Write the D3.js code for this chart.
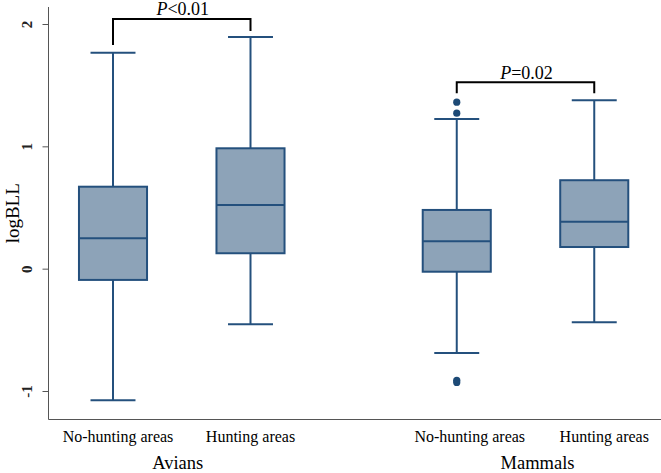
<!DOCTYPE html>
<html>
<head>
<meta charset="utf-8">
<script src="https://cdn.jsdelivr.net/npm/d3@7"></script>
<style>
  html, body { margin: 0; padding: 0; background: #fff; }
  svg { display: block; }
  text, tspan { font-family: "Liberation Serif", "DejaVu Serif", serif; fill: #000; }
</style>
</head>
<body>
<svg id="chart" width="661" height="473"></svg>
<script>
// ---------- data ----------
const groups = ["Avians", "Mammals"];
const categories = ["No-hunting areas", "Hunting areas", "No-hunting areas", "Hunting areas"];
const categoryGroup = [0, 0, 1, 1];
const slot = [0, 1, 2.5, 3.5];
const whiskerLow  = [-1.076, -0.455, -0.689, -0.438];
const q1          = [-0.092,  0.126, -0.025,  0.177];
const median      = [ 0.248,  0.521,  0.224,  0.384];
const q3          = [ 0.670,  0.984,  0.480,  0.723];
const whiskerHigh = [ 1.764,  1.894,  1.224,  1.377];
const outliers = [[], [], [1.361, 1.271, -0.912, -0.930], []];
const yTicks = [-1, 0, 1, 2];
const yTickLabels = ["-1", "0", "1", "2"];
const yLabel = "logBLL";
// significance brackets: [left box, right box], top level, leg ends (data units)
const bracketPairs = [[0, 1], [2, 3]];
const bracketTop = [2.041, 1.524];
const bracketLegLeft = [1.829, 1.434];
const bracketLegRight = [1.943, 1.434];
const pPrefix = ["P", "P"];
const pRest = ["<0.01", "=0.02"];

// ---------- layout ----------
const serif = '"Liberation Serif", "DejaVu Serif", serif';
const svg = d3.select("#chart");
const y = d3.scaleLinear().domain([-1, 2]).range([391, 24]);
const yExtent = [y.invert(419.5), y.invert(7)];
const x = d3.scaleLinear().domain([0, 1]).range([113, 250.5]);
const step = x(1) - x(0);
const boxW = step * 0.495;
const capW = step * 0.327;
const navy = "#24507d";
const fill = "#8da3b8";
const axisColor = "#555";

// axes
const yAxis = d3.axisLeft(y).tickValues(yTicks).tickFormat((d, i) => yTickLabels[i])
  .tickSize(6).tickSizeOuter(0).tickPadding(4);
const gy = svg.append("g").attr("transform", "translate(48.5,0)").call(yAxis)
  .attr("font-family", serif);
gy.select(".domain").remove();
gy.selectAll(".tick line").attr("stroke", axisColor).attr("stroke-width", 1);
gy.selectAll(".tick text")
  .attr("transform", "rotate(-90)")
  .attr("x", 0).attr("y", -17).attr("dy", 0)
  .attr("text-anchor", "middle")
  .style("font-family", serif)
  .style("font-size", "15px")
  .style("font-weight", "bold")
  .style("fill", "#222");
svg.append("line")
  .attr("x1", 48.5).attr("x2", 48.5)
  .attr("y1", y(yExtent[0])).attr("y2", y(yExtent[1]))
  .attr("stroke", axisColor).attr("stroke-width", 1);
svg.append("line")
  .attr("x1", 48.5).attr("x2", 661)
  .attr("y1", y(yExtent[0])).attr("y2", y(yExtent[0]))
  .attr("stroke", axisColor).attr("stroke-width", 1);

// y label
svg.append("text")
  .attr("transform", `translate(19,${y((yExtent[0] + yExtent[1]) / 2)}) rotate(-90)`)
  .attr("text-anchor", "middle")
  .style("font-size", "19px")
  .text(yLabel);

// boxes
categories.forEach((c, i) => {
  const cx = x(slot[i]);
  const g = svg.append("g");
  g.append("line").attr("x1", cx).attr("x2", cx).attr("y1", y(q3[i])).attr("y2", y(whiskerHigh[i]))
    .attr("stroke", navy).attr("stroke-width", 2);
  g.append("line").attr("x1", cx).attr("x2", cx).attr("y1", y(q1[i])).attr("y2", y(whiskerLow[i]))
    .attr("stroke", navy).attr("stroke-width", 2);
  g.append("line").attr("x1", cx - capW / 2).attr("x2", cx + capW / 2)
    .attr("y1", y(whiskerHigh[i])).attr("y2", y(whiskerHigh[i]))
    .attr("stroke", navy).attr("stroke-width", 2);
  g.append("line").attr("x1", cx - capW / 2).attr("x2", cx + capW / 2)
    .attr("y1", y(whiskerLow[i])).attr("y2", y(whiskerLow[i]))
    .attr("stroke", navy).attr("stroke-width", 2);
  g.append("rect").attr("x", cx - boxW / 2).attr("width", boxW)
    .attr("y", y(q3[i])).attr("height", y(q1[i]) - y(q3[i]))
    .attr("fill", fill).attr("stroke", navy).attr("stroke-width", 2);
  g.append("line").attr("x1", cx - boxW / 2).attr("x2", cx + boxW / 2)
    .attr("y1", y(median[i])).attr("y2", y(median[i]))
    .attr("stroke", navy).attr("stroke-width", 2);
  g.selectAll("circle").data(outliers[i]).join("circle")
    .attr("cx", cx).attr("cy", d => y(d)).attr("r", 3.6)
    .attr("fill", "#1d4a76");
});

// category labels
const labelShift = [5, 0, 13, 10];
categories.forEach((c, i) => {
  svg.append("text")
    .attr("x", x(slot[i]) + labelShift[i]).attr("y", 442)
    .attr("text-anchor", "middle")
    .style("font-size", "16px")
    .text(c);
});

// group labels
const groupShift = [-4, 12];
groups.forEach((gname, gi) => {
  const idx = categoryGroup.map((g, i) => g === gi ? i : -1).filter(i => i >= 0);
  const cx = d3.mean(idx, i => x(slot[i]));
  svg.append("text")
    .attr("x", cx + groupShift[gi]).attr("y", 469)
    .attr("text-anchor", "middle")
    .style("font-size", "18.5px")
    .text(gname);
});

// significance brackets
bracketPairs.forEach(([a, b], k) => {
  const xa = x(slot[a]), xb = x(slot[b]);
  const path = d3.path();
  path.moveTo(xa, y(bracketLegLeft[k]));
  path.lineTo(xa, y(bracketTop[k]));
  path.lineTo(xb, y(bracketTop[k]));
  path.lineTo(xb, y(bracketLegRight[k]));
  svg.append("path").attr("d", path.toString())
    .attr("fill", "none").attr("stroke", "#000").attr("stroke-width", 2);
  const t = svg.append("text")
    .attr("x", (xa + xb) / 2 + 1).attr("y", y(bracketTop[k]) - 3.5)
    .attr("text-anchor", "middle")
    .style("font-size", "18px");
  t.append("tspan").style("font-style", "italic").style("font-family", serif).text(pPrefix[k]);
  t.append("tspan").style("font-family", serif).text(pRest[k]);
});
</script>
</body>
</html>
